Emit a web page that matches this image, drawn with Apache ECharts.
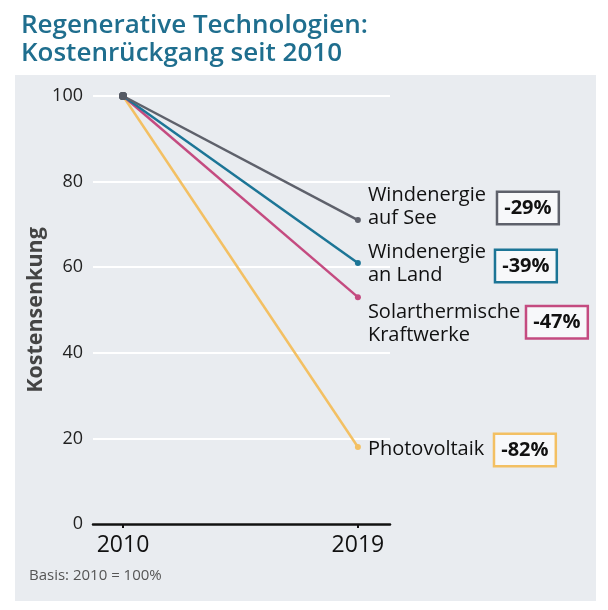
<!DOCTYPE html>
<html>
<head>
<meta charset="utf-8">
<script src="https://cdn.jsdelivr.net/npm/echarts@6/dist/echarts.min.js"></script>
<style>
  html, body { margin: 0; padding: 0; background: #fff; }
  #box { width: 608px; height: 610px; }
</style>
</head>
<body>
<div id="box"></div>
<script>
// Daten (2010 = 100)
var years = [2010, 2019];
var names = ['Photovoltaik', 'Solarthermische\nKraftwerke', 'Windenergie\nan Land', 'Windenergie\nauf See'];
var pv = [100, 18];
var solar = [100, 53];
var windLand = [100, 61];
var windSee = [100, 71];
var yTicks = [0, 20, 40, 60, 80, 100];

var colorList = ['#f3c063', '#c44b80', '#1c7596', '#5e616b'];
var valueList = [pv, solar, windLand, windSee];
// label placement per series: name offset y, box offset
var nameDy = [2, 27, 1, -13];
var boxOff = [[167, 3], [199, 25], [168, 3], [170, -12]];

var chart = echarts.init(document.getElementById('box'));
var font = '"Open Sans", "Noto Sans", sans-serif';

var series = valueList.map(function (vals, k) {
    return {
        type: 'line',
        name: names[k],
        z: 2 + k,
        data: vals.map(function (v, i) {
            if (i === vals.length - 1) {
                return { value: [years[i], v], label: { show: true } };
            }
            return [years[i], v];
        }),
        symbol: 'circle',
        symbolSize: function (v, p) { return p.dataIndex === 0 ? 8 : 6; },
        itemStyle: {
            color: function (p) { return p.dataIndex === 0 ? '#555a64' : colorList[k]; }
        },
        lineStyle: { color: colorList[k], width: 2.5 },
        label: {
            show: false,
            position: 'inside',
            offset: boxOff[k],
            formatter: function (p) { return Math.round(p.value[1] - 100) + '%'; },
            fontFamily: font,
            fontWeight: 'bold',
            fontSize: 20,
            lineHeight: 24,
            color: '#111',
            backgroundColor: '#f7f8fa',
            borderColor: colorList[k],
            borderWidth: 2.5,
            padding: [3, 6, 3, 6]
        },
        endLabel: {
            show: true,
            distance: 10,
            offset: [0, nameDy[k]],
            formatter: names[k],
            fontFamily: font,
            fontSize: 20,
            lineHeight: 23,
            color: '#111'
        },
        emphasis: { disabled: true },
        animation: false
    };
});

var option = {
    backgroundColor: '#fff',
    animation: false,
    title: {
        text: 'Regenerative Technologien:\nKostenrückgang seit 2010',
        left: 16,
        top: 7,
        textStyle: {
            fontFamily: font,
            fontSize: 26,
            fontWeight: 600,
            lineHeight: 28,
            color: '#1f6e8e'
        }
    },
    graphic: [
        {
            type: 'rect',
            z: -10,
            shape: { x: 15, y: 75, width: 581, height: 526 },
            style: { fill: '#e9ecf0' }
        },
        {
            type: 'text',
            left: 29,
            top: 568,
            style: {
                text: 'Basis: 2010 = 100%',
                fontFamily: font,
                fontSize: 15,
                fill: '#555'
            }
        }
    ],
    grid: { left: 93, right: 218, top: 96, bottom: 86 },
    xAxis: {
        type: 'value',
        min: 2008.85,
        max: 2020.23,
        splitLine: { show: false },
        axisLine: { show: true, lineStyle: { color: '#111', width: 2.5 } },
        axisTick: { show: true, customValues: years, length: 4, lineStyle: { color: '#111', width: 2 } },
        axisLabel: {
            customValues: years,
            margin: 10,
            fontFamily: font,
            fontSize: 23,
            color: '#111',
            formatter: function (v) { return String(v); }
        }
    },
    yAxis: {
        type: 'value',
        min: 0,
        max: 100,
        interval: 20,
        name: 'Kostensenkung',
        nameLocation: 'middle',
        nameGap: 46,
        nameTextStyle: {
            fontFamily: font,
            fontSize: 21.5,
            fontWeight: 'bold',
            color: '#444'
        },
        axisLine: { show: false },
        axisTick: { show: false },
        axisLabel: {
            margin: 10,
            fontFamily: font,
            fontSize: 18,
            color: '#222',
            customValues: yTicks
        },
        splitLine: { show: true, lineStyle: { color: '#fff', width: 2 } }
    },
    series: series
};

chart.setOption(option);
</script>
</body>
</html>
